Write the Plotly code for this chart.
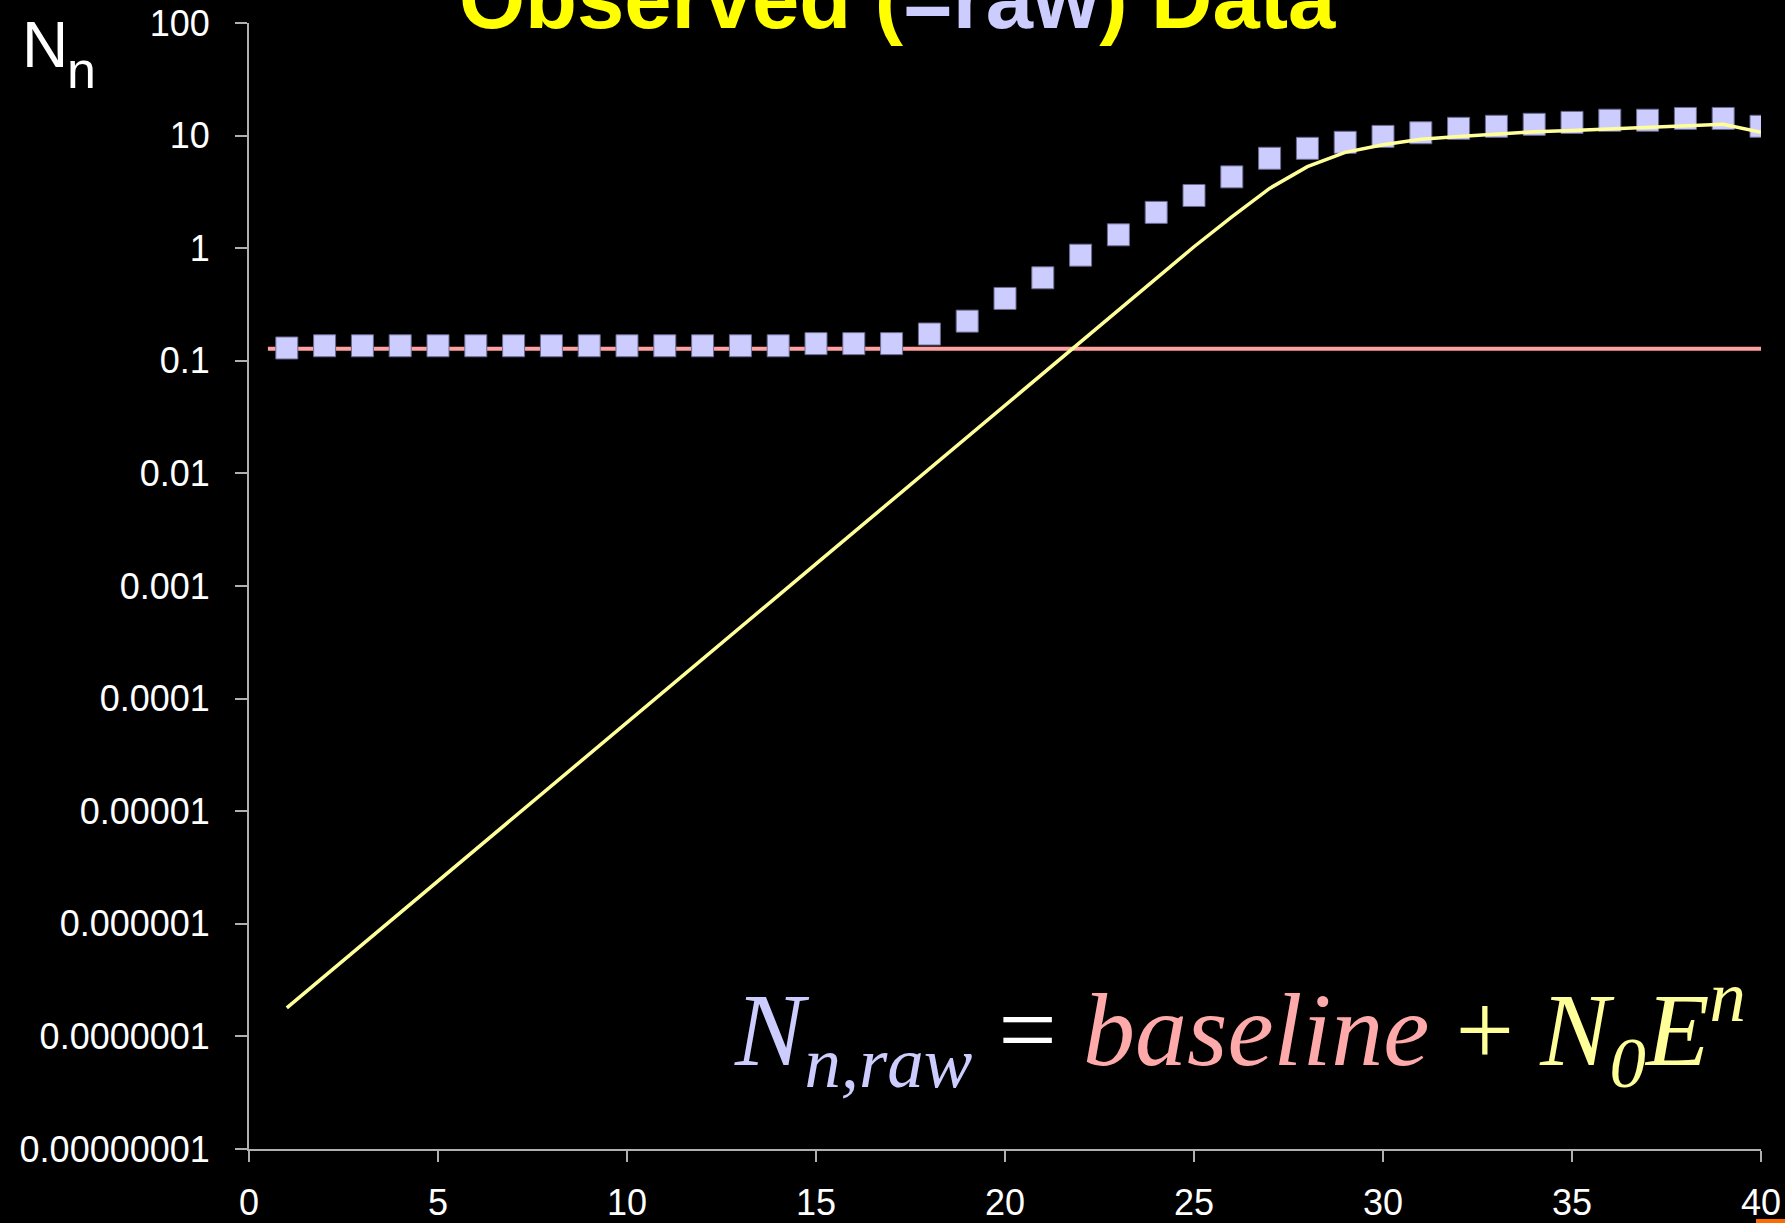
import plotly.graph_objects as go

# ---------------- data ----------------
cycles = list(range(1, 41))

observed = [0.130, 0.136, 0.136, 0.136, 0.136, 0.136, 0.136, 0.136, 0.136, 0.136,
            0.136, 0.136, 0.136, 0.136, 0.142, 0.142, 0.142, 0.173, 0.225, 0.358,
            0.546, 0.867, 1.315, 2.08, 2.94, 4.30, 6.29, 7.71, 8.72, 9.84,
            10.6, 11.6, 12.1, 12.6, 13.1, 13.7, 13.7, 14.2, 14.2, 12.1]

fitted = [1.79e-7, 3.43e-7, 6.55e-7, 1.25e-6, 2.40e-6, 4.58e-6, 8.77e-6, 1.68e-5, 3.21e-5, 6.14e-5,
          1.17e-4, 2.25e-4, 4.30e-4, 8.22e-4, 1.57e-3, 3.01e-3, 5.75e-3, 1.10e-2, 2.10e-2, 4.02e-2,
          7.70e-2, 0.147, 0.281, 0.538, 1.03, 1.90, 3.40, 5.30, 7.10, 8.30,
          9.30, 9.80, 10.3, 10.8, 11.1, 11.5, 11.9, 12.3, 12.6, 10.7]

baseline_cycles = [0.5, 40]
baseline_level = [0.128, 0.128]

x_ticks = [0, 5, 10, 15, 20, 25, 30, 35, 40]
y_ticks = [1e-8, 1e-7, 1e-6, 1e-5, 1e-4, 1e-3, 1e-2, 1e-1, 1, 10, 100]
y_ticktext = ["0.00000001", "0.0000001", "0.000001", "0.00001", "0.0001",
              "0.001", "0.01", "0.1", "1", "10", "100"]

# ---------------- figure ----------------
W, H = 1785, 1223
L, R, T, B = 249, 24, 23, 74
PW, PH = W - L - R, H - T - B


def px(xp):
    return (xp - L) / PW


def py(yp):
    return (H - B - yp) / PH


fig = go.Figure()

fig.add_trace(go.Scatter(
    x=baseline_cycles, y=baseline_level, mode="lines",
    line=dict(color="#ffa0a0", width=4), hoverinfo="skip", showlegend=False))

fig.add_trace(go.Scatter(
    x=cycles, y=observed, mode="markers",
    marker=dict(symbol="square", size=22, color="#ccccff",
                line=dict(color="#6a6a90", width=1)),
    showlegend=False))

fig.add_trace(go.Scatter(
    x=cycles, y=fitted, mode="lines",
    line=dict(color="#ffff99", width=3.5), showlegend=False))

axis_font = dict(family="Liberation Sans, Arial, sans-serif", size=36, color="white")

fig.update_xaxes(
    range=[0, 40], tickmode="array", tickvals=x_ticks,
    showline=True, linecolor="#b0b0b0", linewidth=2,
    ticks="outside", ticklen=11, tickcolor="#b0b0b0", tickwidth=2,
    showgrid=False, zeroline=False, tickfont=axis_font,
    ticklabelstandoff=10, automargin=False)

fig.update_yaxes(
    type="log", range=[-8, 2], tickmode="array", tickvals=y_ticks, ticktext=y_ticktext,
    showline=True, linecolor="#b0b0b0", linewidth=2,
    ticks="outside", ticklen=12, tickcolor="#b0b0b0", tickwidth=2,
    showgrid=False, zeroline=False, tickfont=axis_font,
    ticklabelstandoff=18, automargin=False)

annotations = [
    # title (partly cut off at top)
    dict(text='<b><span style="color:#ffff00">Observed (</span>'
              '<span style="color:#ccccff">=raw</span>'
              '<span style="color:#ffff00">) Data</span></b>',
         x=px(897), y=py(-1), xref="paper", yref="paper",
         xanchor="center", yanchor="middle", showarrow=False,
         font=dict(family="Liberation Sans, Arial, sans-serif", size=85, color="#ffff00")),
    # axis label N_n
    dict(text="N", x=px(20), y=py(45), xref="paper", yref="paper",
         xanchor="left", yanchor="middle", showarrow=False,
         font=dict(family="Liberation Sans, Arial, sans-serif", size=64, color="white")),
    dict(text="n", x=px(65), y=py(70), xref="paper", yref="paper",
         xanchor="left", yanchor="middle", showarrow=False,
         font=dict(family="Liberation Sans, Arial, sans-serif", size=52, color="white")),
    # formula
    dict(text='<i><span style="color:#ccccff">N<sub>n,raw</sub></span></i>'
              ' = '
              '<i><span style="color:#ffaaaa">baseline</span></i>'
              '<span style="color:#ffff99"> + <i>N<sub>0</sub>E<sup>n</sup></i></span>',
         x=px(732), y=py(1029), xref="paper", yref="paper",
         xanchor="left", yanchor="middle", showarrow=False,
         font=dict(family="Liberation Serif, Times New Roman, serif", size=104, color="white")),
]
fig.update_layout(annotations=annotations)

# small orange slide artifact at bottom-right corner
fig.add_shape(type="rect", xref="paper", yref="paper",
              x0=px(1756), x1=px(1790), y0=py(1228), y1=py(1219),
              fillcolor="#ff6a00", line=dict(width=0), layer="above")

fig.update_layout(
    width=W, height=H,
    margin=dict(l=L, r=R, t=T, b=B, pad=0, autoexpand=False),
    paper_bgcolor="black", plot_bgcolor="black",
    showlegend=False,
)

fig.write_html("out.html")
